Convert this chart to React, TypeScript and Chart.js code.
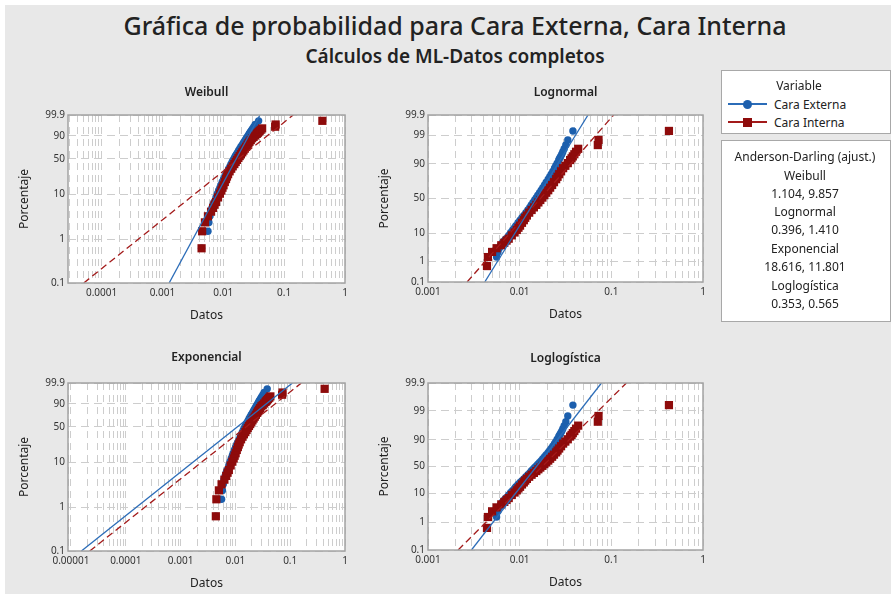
import React, { useEffect, useRef } from 'react';
import { Chart, registerables, Scale } from 'chart.js';

const FONT = '"Noto Sans", "DejaVu Sans", sans-serif';
const BLUE = '#1c5fad';
const RED = '#8e0b0b';
const BLUE_LINE = '#2b6cb8';
const RED_LINE = '#a31a1a';
const GRID = '#cdcdcd';
const TEXT = '#222222';

// ---------------- data ----------------
// plotting positions (percent) of the ordered observations
const percentiles = [
  0.62, 1.51, 2.4, 3.29, 4.18, 5.07, 5.96, 6.85, 8.63, 10.41, 12.19, 13.97, 15.75,
  18.42, 21.09, 23.75, 26.42, 29.98, 33.54, 37.1, 40.66, 44.22, 47.78, 51.33, 54.89,
  58.45, 62.01, 65.57, 69.13, 72.69, 76.25, 78.91, 81.58, 84.25, 86.92, 88.7, 90.48,
  92.26, 93.15, 94.04, 94.93, 95.82, 96.71, 97.6, 98.49, 99.38,
];
const caraExterna = [
  0.0044, 0.0056, 0.0058, 0.006, 0.0062, 0.0065, 0.0068, 0.0071, 0.0076, 0.008, 0.0084,
  0.0088, 0.0091, 0.0096, 0.0101, 0.0106, 0.0111, 0.0117, 0.0123, 0.0129, 0.0134, 0.014,
  0.0146, 0.0152, 0.0158, 0.0165, 0.0172, 0.0179, 0.0187, 0.0195, 0.0205, 0.0213, 0.0221,
  0.023, 0.024, 0.0248, 0.0257, 0.0267, 0.0273, 0.028, 0.0288, 0.0296, 0.0306, 0.0319,
  0.0335, 0.0381,
];
const caraInterna = [
  0.0044, 0.0045, 0.005, 0.0056, 0.0063, 0.0068, 0.0072, 0.0076, 0.0082, 0.0088, 0.0093,
  0.0097, 0.0101, 0.0106, 0.0111, 0.0115, 0.012, 0.0127, 0.0135, 0.0143, 0.0152, 0.016,
  0.0168, 0.0177, 0.0186, 0.0195, 0.0205, 0.0215, 0.0226, 0.0237, 0.025, 0.0259, 0.027,
  0.0283, 0.0298, 0.0315, 0.0335, 0.0355, 0.0368, 0.038, 0.0395, 0.0412, 0.0435, 0.0712,
  0.0725, 0.425,
];
const seriesNames = ['Cara Externa', 'Cara Interna'];

// fitted lines: [x, percent] at the bottom and top of each plot
const fitWeibullExt = [[0.00129, 0.1], [0.04, 99.9]];
const fitWeibullInt = [[0.000051, 0.1], [0.141, 99.9]];
const fitLognormalExt = [[0.00416, 0.1], [0.0557, 99.9]];
const fitLognormalInt = [[0.00267, 0.1], [0.106, 99.9]];
const fitExponencialExt = [[0.0000155, 0.1], [0.11, 99.9]];
const fitExponencialInt = [[0.000022, 0.1], [0.16, 99.9]];
const fitLoglogisticaExt = [[0.00298, 0.1], [0.078, 99.9]];
const fitLoglogisticaInt = [[0.00213, 0.1], [0.146, 99.9]];

// tick labels
const yTicksWeibull = [0.1, 1, 10, 50, 90, 99.9];
const yTicksNormal = [0.1, 1, 10, 50, 90, 99, 99.9];
const xTicksWeibull = [0.0001, 0.001, 0.01, 0.1, 1];
const xLabelsWeibull = ['0.0001', '0.001', '0.01', '0.1', '1'];
const xTicksLog3 = [0.001, 0.01, 0.1, 1];
const xLabelsLog3 = ['0.001', '0.01', '0.1', '1'];
const xTicksExp = [0.00001, 0.0001, 0.001, 0.01, 0.1, 1];
const xLabelsExp = ['0.00001', '0.0001', '0.001', '0.01', '0.1', '1'];

const adNames = ['Weibull', 'Lognormal', 'Exponencial', 'Loglogística'];
const adValues = ['1.104, 9.857', '0.396, 1.410', '18.616, 11.801', '0.353, 0.565'];

// ---------------- probability scale ----------------
function normInv(p: number): number {
  const a = [-39.69683028665376, 220.9460984245205, -275.9285104469687, 138.357751867269, -30.66479806614716, 2.506628277459239];
  const b = [-54.47609879822406, 161.5858368580409, -155.6989798598866, 66.80131188771972, -13.28068155288572];
  const c = [-0.007784894002430293, -0.3223964580411365, -2.400758277161838, -2.549732539343734, 4.374664141464968, 2.938163982698783];
  const d = [0.007784695709041462, 0.3224671290700398, 2.445134137142996, 3.754408661907416];
  const pl = 0.02425;
  if (p < pl) {
    const q = Math.sqrt(-2 * Math.log(p));
    return (((((c[0] * q + c[1]) * q + c[2]) * q + c[3]) * q + c[4]) * q + c[5]) / ((((d[0] * q + d[1]) * q + d[2]) * q + d[3]) * q + 1);
  }
  if (p <= 1 - pl) {
    const q = p - 0.5;
    const r = q * q;
    return ((((((a[0] * r + a[1]) * r + a[2]) * r + a[3]) * r + a[4]) * r + a[5]) * q) / (((((b[0] * r + b[1]) * r + b[2]) * r + b[3]) * r + b[4]) * r + 1);
  }
  const q = Math.sqrt(-2 * Math.log(1 - p));
  return -(((((c[0] * q + c[1]) * q + c[2]) * q + c[3]) * q + c[4]) * q + c[5]) / ((((d[0] * q + d[1]) * q + d[2]) * q + d[3]) * q + 1);
}

const TRANSFORMS: Record<string, (p: number) => number> = {
  weibull: (p) => Math.log(-Math.log(1 - p / 100)),
  normal: (p) => normInv(p / 100),
  logistic: (p) => Math.log(p / (100 - p)),
};

class ProbabilityScale extends Scale {
  static id = 'probability';
  static defaults = {};
  _f: (p: number) => number = TRANSFORMS.weibull;
  _t0 = 0;
  _t1 = 1;
  determineDataLimits() {
    const o: any = this.options;
    this.min = o.min;
    this.max = o.max;
  }
  buildTicks() {
    const o: any = this.options;
    return (o.tickValues as number[]).map((v) => ({ value: v }));
  }
  getLabelForValue(v: number) {
    return String(v);
  }
  configure() {
    super.configure();
    const o: any = this.options;
    this._f = TRANSFORMS[o.transform] || TRANSFORMS.weibull;
    this._t0 = this._f(this.min);
    this._t1 = this._f(this.max);
  }
  getPixelForValue(v: number) {
    if (v === null || v === undefined || isNaN(v)) return NaN;
    return this.getPixelForDecimal((this._f(v) - this._t0) / (this._t1 - this._t0));
  }
  getValueForPixel(px: number) {
    const t = this._t0 + this.getDecimalForPixel(px) * (this._t1 - this._t0);
    let lo = 1e-6;
    let hi = 100 - 1e-6;
    for (let i = 0; i < 60; i++) {
      const m = (lo + hi) / 2;
      if (this._f(m) < t) lo = m;
      else hi = m;
    }
    return (lo + hi) / 2;
  }
}

Chart.register(...registerables, ProbabilityScale as any);
Chart.defaults.font.family = FONT;

const decorPlugin = {
  id: 'decor',
  beforeDraw(chart: any) {
    const { ctx, chartArea: a } = chart;
    ctx.save();
    ctx.fillStyle = '#ffffff';
    ctx.fillRect(a.left, a.top, a.right - a.left, a.bottom - a.top);
    ctx.restore();
  },
  afterDraw(chart: any, _args: any, opts: any) {
    const { ctx, chartArea: a } = chart;
    ctx.save();
    ctx.strokeStyle = '#a3a3a3';
    ctx.lineWidth = 1.5;
    ctx.strokeRect(a.left, a.top, a.right - a.left, a.bottom - a.top);
    ctx.fillStyle = TEXT;
    ctx.textAlign = 'center';
    ctx.textBaseline = 'middle';
    ctx.font = `600 12px ${FONT}`;
    ctx.fillText(opts.title, (a.left + a.right) / 2, a.top - opts.titleOffset);
    ctx.font = `12px ${FONT}`;
    ctx.fillText('Datos', (a.left + a.right) / 2, a.bottom + 33);
    ctx.translate(a.left - 43, (a.top + a.bottom) / 2);
    ctx.rotate(-Math.PI / 2);
    ctx.fillText('Porcentaje', 0, 0);
    ctx.restore();
  },
};

type PlotProps = {
  title: string;
  titleOffset: number;
  canvas: { x: number; y: number; w: number; h: number };
  area: { l: number; t: number; r: number; b: number };
  xMin: number;
  xMax: number;
  xTicks: number[];
  xLabels: string[];
  transform: string;
  yTicks: number[];
  fitExt: number[][];
  fitInt: number[][];
};

function Plot(p: PlotProps) {
  const ref = useRef<HTMLCanvasElement | null>(null);
  useEffect(() => {
    const canvas = ref.current;
    if (!canvas) return;
    const minorGrid: number[] = [];
    for (let e = Math.floor(Math.log10(p.xMin)); e <= 0; e++) {
      for (let m = 1; m <= 9; m++) {
        const v = m * Math.pow(10, e);
        if (v >= p.xMin * 0.999 && v <= p.xMax * 1.001) minorGrid.push(v);
      }
    }
    const labelFor = (v: number) => {
      const i = p.xTicks.findIndex((d) => Math.abs(d - v) / d < 1e-6);
      return i >= 0 ? p.xLabels[i] : '';
    };
    const chart = new Chart(canvas, {
      type: 'scatter',
      data: {
        datasets: [
          {
            label: seriesNames[0] + ' ajuste',
            data: p.fitExt.map((q) => ({ x: q[0], y: q[1] })),
            showLine: true,
            pointRadius: 0,
            borderColor: BLUE_LINE,
            borderWidth: 1.3,
          } as any,
          {
            label: seriesNames[1] + ' ajuste',
            data: p.fitInt.map((q) => ({ x: q[0], y: q[1] })),
            showLine: true,
            pointRadius: 0,
            borderColor: RED_LINE,
            borderWidth: 1.3,
            borderDash: [7, 4],
          },
          {
            label: seriesNames[1],
            data: percentiles.map((y, i) => ({ x: caraInterna[i], y })),
            pointStyle: 'rect',
            pointRadius: 5.8,
            backgroundColor: RED,
            borderColor: RED,
            borderWidth: 0,
          },
          {
            label: seriesNames[0],
            data: percentiles.map((y, i) => ({ x: caraExterna[i], y })),
            pointStyle: 'circle',
            pointRadius: 3.7,
            backgroundColor: BLUE,
            borderColor: BLUE,
            borderWidth: 0,
          },
        ],
      },
      options: {
        animation: false,
        responsive: false,
        maintainAspectRatio: false,
        devicePixelRatio: 1,
        events: [],
        layout: {
          padding: {
            left: 0,
            top: p.area.t - p.canvas.y,
            right: p.canvas.x + p.canvas.w - p.area.r,
            bottom: 0,
          },
        },
        plugins: {
          legend: { display: false },
          tooltip: { enabled: false },
          decor: { title: p.title, titleOffset: p.titleOffset },
        } as any,
        scales: {
          x: {
            type: 'logarithmic',
            position: 'bottom',
            min: p.xMin,
            max: p.xMax,
            bounds: 'data',
            afterBuildTicks: (s: any) => {
              s.ticks = minorGrid.map((v) => ({ value: v }));
            },
            afterFit: (s: any) => {
              s.height = p.canvas.y + p.canvas.h - p.area.b;
            },
            ticks: {
              autoSkip: false,
              maxRotation: 0,
              padding: 4,
              color: '#333333',
              font: { size: 10, family: FONT },
              callback: (v: any) => labelFor(Number(v)),
            },
            grid: { color: GRID, lineWidth: 1, drawTicks: false },
            border: { display: false, dash: [7, 5] },
          },
          y: {
            type: 'probability',
            axis: 'y',
            position: 'left',
            min: 0.1,
            max: 99.9,
            transform: p.transform,
            tickValues: p.yTicks,
            afterFit: (s: any) => {
              s.width = p.area.l - p.canvas.x;
            },
            ticks: {
              autoSkip: false,
              padding: 3,
              color: '#333333',
              font: { size: 10, family: FONT },
              callback: (v: any) => String(v),
            },
            grid: { color: GRID, lineWidth: 1, drawTicks: false },
            border: { display: false, dash: [8, 5] },
          } as any,
        },
      },
      plugins: [decorPlugin],
    } as any);
    return () => chart.destroy();
  }, []);
  return (
    <canvas
      ref={ref}
      width={p.canvas.w}
      height={p.canvas.h}
      style={{ position: 'absolute', left: p.canvas.x, top: p.canvas.y, width: p.canvas.w, height: p.canvas.h }}
    />
  );
}

function Txt(props: { x: number; y: number; size: number; weight?: number | string; align?: 'center' | 'left'; children: React.ReactNode }) {
  const lh = Math.round(props.size * 1.4);
  const center = (props.align || 'center') === 'center';
  return (
    <div
      style={{
        position: 'absolute',
        top: props.y - lh / 2,
        left: center ? props.x - 400 : props.x,
        width: center ? 800 : 300,
        textAlign: center ? 'center' : 'left',
        fontSize: props.size,
        lineHeight: lh + 'px',
        fontWeight: props.weight || 'normal',
        color: TEXT,
        whiteSpace: 'nowrap',
        fontFamily: FONT,
      }}
    >
      {props.children}
    </div>
  );
}

export default function App() {
  return (
    <div style={{ position: 'fixed', left: 0, top: 0, width: 891, height: 594, background: '#ffffff', overflow: 'hidden' }}>
      <div style={{ position: 'absolute', left: 5, top: 5, right: 0, bottom: 0, background: '#e8e8e8' }} />
      <Txt x={455} y={25} size={25} weight={500}>
        Gráfica de probabilidad para Cara Externa, Cara Interna
      </Txt>
      <Txt x={455} y={56} size={19} weight={600}>
        Cálculos de ML-Datos completos
      </Txt>

      <Plot
        title="Weibull"
        titleOffset={22}
        canvas={{ x: 0, y: 80, w: 360, h: 250 }}
        area={{ l: 68, t: 115, r: 345, b: 283 }}
        xMin={0.0000281}
        xMax={1}
        xTicks={xTicksWeibull}
        xLabels={xLabelsWeibull}
        transform="weibull"
        yTicks={yTicksWeibull}
        fitExt={fitWeibullExt}
        fitInt={fitWeibullInt}
      />
      <Plot
        title="Lognormal"
        titleOffset={22}
        canvas={{ x: 360, y: 80, w: 355, h: 250 }}
        area={{ l: 428, t: 115, r: 703, b: 282 }}
        xMin={0.001}
        xMax={1}
        xTicks={xTicksLog3}
        xLabels={xLabelsLog3}
        transform="normal"
        yTicks={yTicksNormal}
        fitExt={fitLognormalExt}
        fitInt={fitLognormalInt}
      />
      <Plot
        title="Exponencial"
        titleOffset={25}
        canvas={{ x: 0, y: 340, w: 360, h: 254 }}
        area={{ l: 68, t: 383, r: 345, b: 551 }}
        xMin={0.00000883}
        xMax={1}
        xTicks={xTicksExp}
        xLabels={xLabelsExp}
        transform="weibull"
        yTicks={yTicksWeibull}
        fitExt={fitExponencialExt}
        fitInt={fitExponencialInt}
      />
      <Plot
        title="Loglogística"
        titleOffset={24}
        canvas={{ x: 360, y: 340, w: 355, h: 254 }}
        area={{ l: 428, t: 383, r: 703, b: 550 }}
        xMin={0.001}
        xMax={1}
        xTicks={xTicksLog3}
        xLabels={xLabelsLog3}
        transform="logistic"
        yTicks={yTicksNormal}
        fitExt={fitLoglogisticaExt}
        fitInt={fitLoglogisticaInt}
      />

      {/* legend */}
      <div style={{ position: 'absolute', left: 721, top: 70, width: 170, height: 64, background: '#fff', border: '1px solid #a8a8a8', boxSizing: 'border-box' }} />
      <Txt x={799} y={85} size={12}>Variable</Txt>
      <div style={{ position: 'absolute', left: 728, top: 103, width: 39, height: 2, background: BLUE_LINE }} />
      <div style={{ position: 'absolute', left: 743, top: 99.5, width: 9, height: 9, borderRadius: '50%', background: BLUE }} />
      <Txt x={774} y={104} size={12} align="left">{seriesNames[0]}</Txt>
      <div style={{ position: 'absolute', left: 728, top: 121, width: 39, height: 2, background: RED_LINE }} />
      <div style={{ position: 'absolute', left: 743, top: 117.5, width: 9, height: 9, background: RED }} />
      <Txt x={774} y={122} size={12} align="left">{seriesNames[1]}</Txt>

      <div style={{ position: 'absolute', left: 721, top: 140, width: 170, height: 182, background: '#fff', border: '1px solid #a8a8a8', boxSizing: 'border-box' }} />
      <Txt x={805} y={156} size={12}>Anderson-Darling (ajust.)</Txt>
      {adNames.map((n, i) => (
        <React.Fragment key={n}>
          <Txt x={805} y={175 + i * 36.7} size={12}>{n}</Txt>
          <Txt x={805} y={193 + i * 36.7} size={12}>{adValues[i]}</Txt>
        </React.Fragment>
      ))}
    </div>
  );
}
